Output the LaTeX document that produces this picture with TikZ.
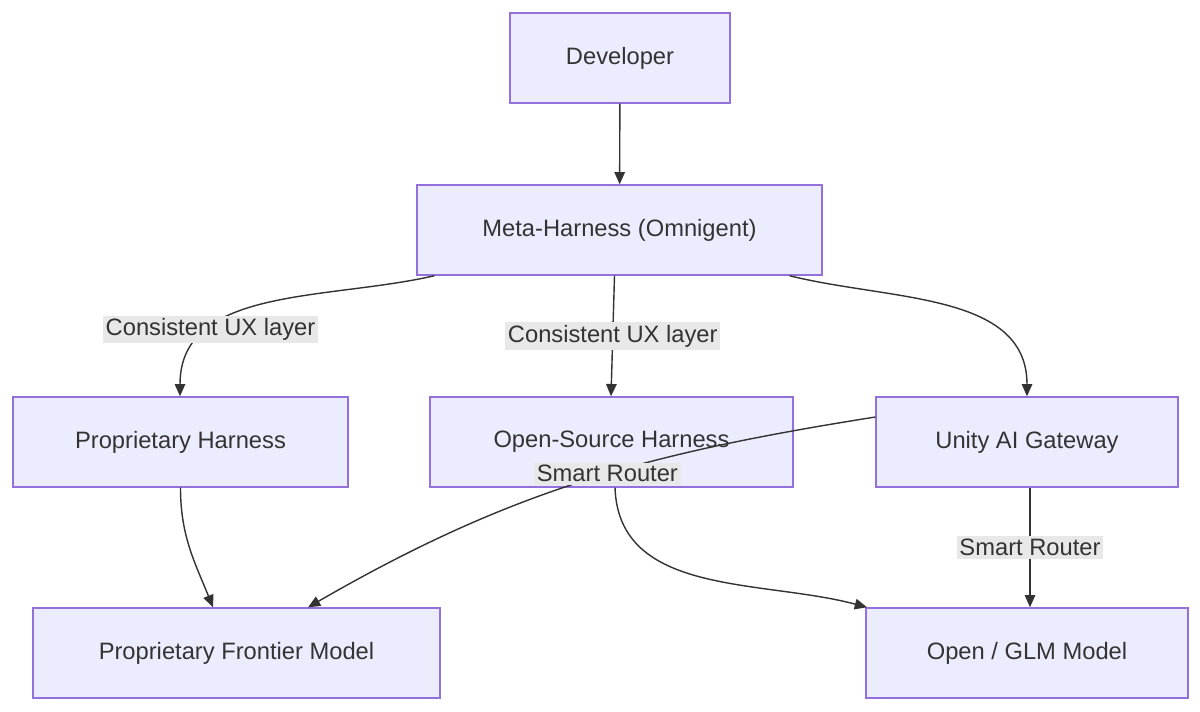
\documentclass[tikz,border=0pt]{standalone}
\usepackage{fontspec}
\setmainfont{Liberation Sans}
\usetikzlibrary{positioning,arrows.meta}
\definecolor{nodefill}{HTML}{ECECFF}
\definecolor{nodeline}{HTML}{9370DB}
\definecolor{edgeline}{HTML}{333333}
\definecolor{lblfill}{HTML}{E8E8E8}

\begin{document}
\begin{tikzpicture}[
    x=0.02cm, y=-0.02cm,
    >={Triangle[length=7pt,width=6pt]},
    box/.style={draw=nodeline, fill=nodefill, line width=0.8pt,
                minimum height=1.8cm, text=edgeline,
                font=\fontsize{13.5}{16}\selectfont},
    arr/.style={->, draw=edgeline, line width=0.8pt},
    lbl/.style={fill=lblfill, text=edgeline, inner sep=1.5pt,
                font=\fontsize{13.5}{16}\selectfont},
]
\useasboundingbox (0,0) rectangle (1200,711);

\node[box, minimum width=4.4cm] (dev) at (620,58) {Developer};
\node[box, minimum width=8.1cm] (meta) at (619.5,230) {Meta-Harness (Omnigent)};
\node[box, minimum width=6.7cm] (prop) at (180.5,442) {Proprietary Harness};
\node[box, minimum width=7.26cm] (open) at (611.5,442) {Open-Source Harness};
\node[box, minimum width=6.04cm] (gate) at (1027,442) {Unity AI Gateway};
\node[box, minimum width=8.14cm] (front) at (236.5,653) {Proprietary Frontier Model};
\node[box, minimum width=6.44cm] (glm) at (1027,653) {Open / GLM Model};

\draw[arr] (dev) -- (meta);
\draw[arr] ([xshift=-3.7cm]meta.south) to[out=193, in=90]
    node[lbl, pos=0.72] {Consistent UX layer} ([xshift=-0.01cm]prop.north);
\draw[arr] ([xshift=-0.1cm]meta.south) -- node[lbl] {Consistent UX layer} ([xshift=-0.01cm]open.north);
\draw[arr] ([xshift=3.4cm]meta.south) to[out=-14, in=90] (gate.north);
\draw[arr] (prop.south) to[out=-90, in=112] ([xshift=-0.47cm]front.north);
\draw[arr] ([yshift=0.5cm]gate.west) to[out=189, in=30]
    node[lbl, pos=0.45] {Smart Router} ([xshift=1.43cm]front.north);
\draw[arr] ([xshift=0.07cm]open.south) to[out=-88, in=165] ([xshift=-3.2cm]glm.north);
\draw[arr] ([xshift=0.06cm]gate.south) -- node[lbl] {Smart Router} ([xshift=0.06cm]glm.north);
\end{tikzpicture}
\end{document}
